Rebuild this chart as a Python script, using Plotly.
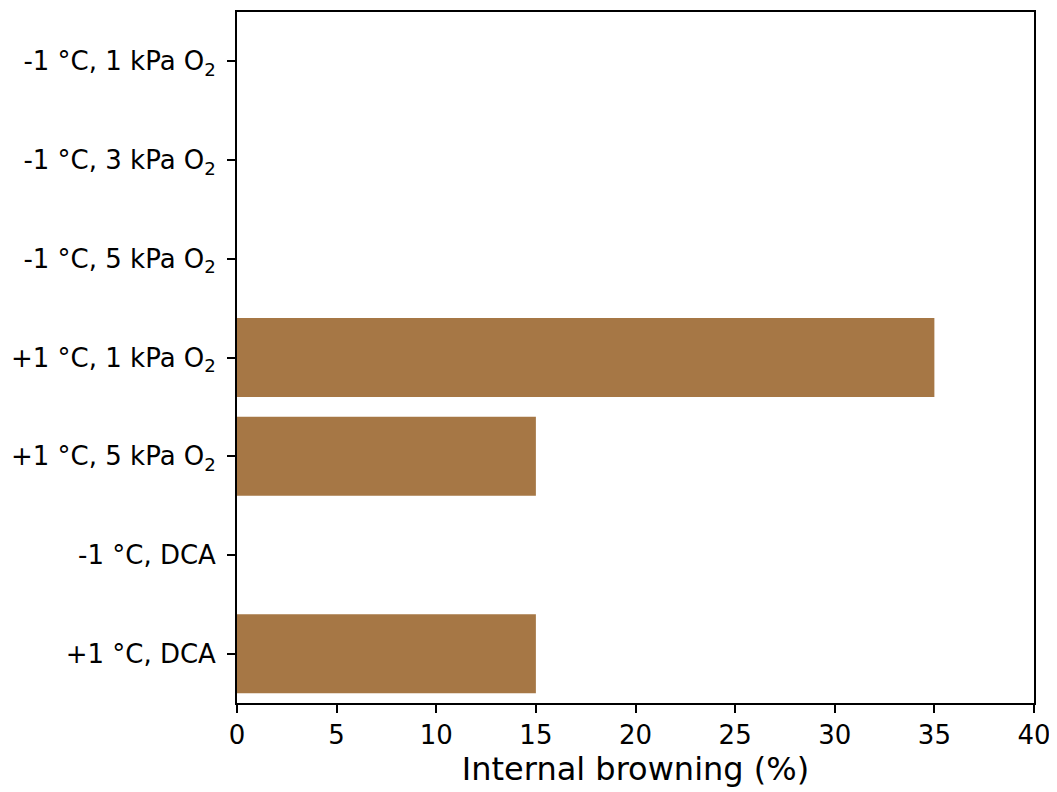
import plotly.graph_objects as go

categories = [
    "-1 °C, 1 kPa O<sub>2</sub>",
    "-1 °C, 3 kPa O<sub>2</sub>",
    "-1 °C, 5 kPa O<sub>2</sub>",
    "+1 °C, 1 kPa O<sub>2</sub>",
    "+1 °C, 5 kPa O<sub>2</sub>",
    "-1 °C, DCA",
    "+1 °C, DCA",
]
browning = [0, 0, 0, 35, 15, 0, 15]
x_ticks = [0, 5, 10, 15, 20, 25, 30, 35, 40]

bar_color = "#A67745"
font_family = "DejaVu Sans"

fig = go.Figure()
fig.add_trace(go.Bar(
    y=categories,
    x=browning,
    orientation="h",
    marker=dict(color=bar_color, line=dict(width=0)),
    width=0.8,
))

fig.update_layout(
    width=1057,
    height=792,
    margin=dict(l=229, r=31, t=2, b=97),
    plot_bgcolor="white",
    paper_bgcolor="white",
    showlegend=False,
    font=dict(family=font_family, size=26, color="black"),
)

fig.update_xaxes(
    range=[0, 40],
    tickvals=x_ticks,
    ticktext=[str(v) for v in x_ticks],
    ticks="outside",
    ticklen=8,
    tickwidth=1.8,
    tickcolor="black",
    showline=True,
    linecolor="black",
    linewidth=1.8,
    mirror=True,
    showgrid=False,
    zeroline=False,
    tickfont=dict(size=26),
    title=dict(text="Internal browning (%)", font=dict(size=32), standoff=8),
)

fig.update_yaxes(
    categoryorder="array",
    categoryarray=categories,
    range=[6.5, -0.5],
    ticks="outside",
    ticklen=8,
    tickwidth=1.8,
    tickcolor="black",
    showline=True,
    linecolor="black",
    linewidth=1.8,
    mirror=True,
    showgrid=False,
    zeroline=False,
    tickfont=dict(size=26),
    ticklabelstandoff=6,
)

fig.write_html("out.html")
